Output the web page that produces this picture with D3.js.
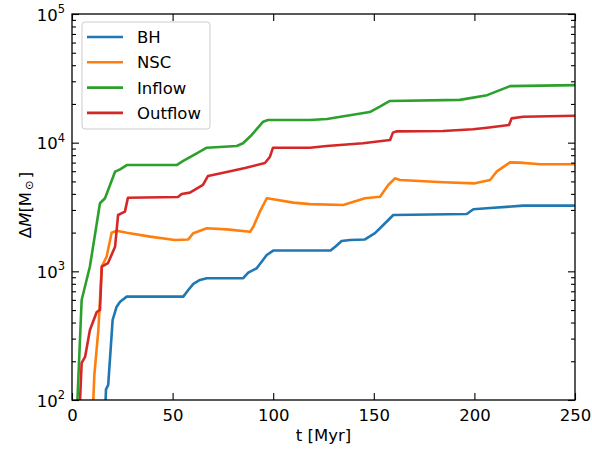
<!DOCTYPE html>
<html>
<head>
<meta charset="utf-8">
<script src="https://cdn.jsdelivr.net/npm/d3@7"></script>
<style>
  body { margin: 0; background: #fff; }
  svg { font-family: "DejaVu Sans", sans-serif; }
</style>
</head>
<body>
<div id="chart"></div>
<script>
// Data: time [Myr] and mass [Msun]
const bhT = [16.7, 16.9, 18.0, 20.2, 22.2, 23.9, 27.2, 55.3, 57.8, 60.3, 63.6, 67.0, 85.1, 87.6, 91.8, 96.8, 100, 118, 128.5, 131, 134, 138.2, 145.6, 150.6, 154.7, 159.7, 196.2, 199.5, 206.1, 224.3, 250];
const bhM = [100, 121, 131, 419, 531, 581, 636, 636, 716, 798, 857, 884, 884, 977, 1057, 1340, 1450, 1450, 1450, 1560, 1720, 1750, 1770, 1980, 2290, 2740, 2790, 3040, 3090, 3240, 3240];

const nscT = [10.6, 11.1, 13.1, 13.9, 14.8, 17.2, 19.7, 22.2, 27.2, 38.8, 51.2, 57.8, 60.3, 67.0, 76.9, 88.5, 90.1, 93.4, 96.8, 100, 110, 118.3, 134.8, 145.6, 153.1, 157.2, 160.5, 163, 184.5, 200.3, 207.8, 211, 217.7, 222.7, 232.6, 250];
const nscM = [100, 156, 350, 598, 1090, 1300, 1995, 2070, 1995, 1860, 1750, 1770, 1980, 2160, 2120, 2030, 2220, 2910, 3700, 3630, 3420, 3330, 3280, 3700, 3800, 4690, 5280, 5130, 4920, 4830, 5130, 5950, 7030, 7000, 6790, 6790];

const inT = [2.7, 4.8, 8.9, 13.9, 16.4, 21.4, 23.9, 27.2, 52, 55.3, 62, 67, 81.9, 85, 89.3, 95, 97.4, 118.3, 126.7, 148, 153, 158, 192.8, 206.3, 217.7, 250];
const inM = [100, 598, 1090, 3380, 3700, 5950, 6200, 6700, 6700, 7210, 8270, 9140, 9420, 9890, 11480, 14560, 15000, 15000, 15280, 17300, 19050, 21100, 21500, 23400, 27500, 28000];

const outT = [4.0, 4.8, 6.5, 8.9, 12.3, 13.9, 14.8, 17.9, 21.4, 22.9, 26.3, 27.8, 52.7, 54.5, 58.6, 65.1, 67.6, 77.5, 86.0, 95.9, 98.4, 99.9, 118.3, 126.6, 144.6, 158.1, 159.5, 161.4, 184.4, 199.3, 206.3, 217.2, 218.5, 224.2, 250];
const outM = [100, 194, 216, 350, 483, 501, 1086, 1160, 1550, 2740, 2910, 3730, 3780, 3990, 4090, 4690, 5510, 5950, 6350, 6950, 7780, 9140, 9140, 9420, 9890, 10500, 11970, 12250, 12320, 12700, 13070, 13710, 15450, 15900, 16200];

const seriesNames = ["BH", "NSC", "Inflow", "Outflow"];
const seriesColors = ["#1f77b4", "#ff7f0e", "#2ca02c", "#d62728"];
const xTicks = [0, 50, 100, 150, 200, 250];
const yExps = [2, 3, 4, 5];

const series = [
  { name: seriesNames[0], t: bhT, m: bhM, color: seriesColors[0] },
  { name: seriesNames[1], t: nscT, m: nscM, color: seriesColors[1] },
  { name: seriesNames[2], t: inT, m: inM, color: seriesColors[2] },
  { name: seriesNames[3], t: outT, m: outM, color: seriesColors[3] }
];

const W = 592, H = 450;
const FS = 16.5;
const margin = { top: 14, right: 17, bottom: 50, left: 72 };
const width = W - margin.left - margin.right;
const height = H - margin.top - margin.bottom;

const svg = d3.select("#chart").append("svg")
  .attr("width", W)
  .attr("height", H);

const g = svg.append("g")
  .attr("transform", `translate(${margin.left},${margin.top})`);

const x = d3.scaleLinear().domain([0, 250]).range([0, width]);
const y = d3.scaleLog().domain([100, 1e5]).range([height, 0]);

// clip for lines
g.append("clipPath").attr("id", "clip")
  .append("rect").attr("width", width).attr("height", height);

const line = d3.line()
  .x(d => x(d[0]))
  .y(d => y(d[1]));

g.append("g").attr("clip-path", "url(#clip)")
  .selectAll("path")
  .data(series)
  .enter().append("path")
  .attr("d", s => line(s.t.map((t, i) => [t, s.m[i]])))
  .attr("fill", "none")
  .attr("stroke", s => s.color)
  .attr("stroke-width", 2.6)
  .attr("stroke-linejoin", "round");

// minor ticks for log axis
const minor = [];
for (let e = 2; e < 5; e++) {
  for (let k = 2; k <= 9; k++) minor.push(k * Math.pow(10, e));
}

// axes with inward ticks on all four sides
const xBottom = g.append("g").attr("transform", `translate(0,${height})`)
  .call(d3.axisBottom(x).tickValues(xTicks).tickSizeInner(-7).tickSizeOuter(0).tickPadding(9));
g.append("g")
  .call(d3.axisTop(x).tickValues(xTicks).tickSizeInner(-7).tickSizeOuter(0).tickFormat(""));
g.append("g")
  .call(d3.axisLeft(y).tickValues(yExps.map(e => Math.pow(10, e))).tickSizeInner(-7).tickSizeOuter(0).tickFormat(""));
g.append("g").attr("transform", `translate(${width},0)`)
  .call(d3.axisRight(y).tickValues(yExps.map(e => Math.pow(10, e))).tickSizeInner(-7).tickSizeOuter(0).tickFormat(""));
g.append("g")
  .call(d3.axisLeft(y).tickValues(minor).tickSizeInner(-4).tickSizeOuter(0).tickFormat(""));
g.append("g").attr("transform", `translate(${width},0)`)
  .call(d3.axisRight(y).tickValues(minor).tickSizeInner(-4).tickSizeOuter(0).tickFormat(""));

g.selectAll(".domain").remove();
g.selectAll(".tick line").attr("stroke", "#000").attr("stroke-width", 1.1);
xBottom.selectAll("text").attr("font-size", FS).attr("fill", "#000")
  .attr("font-family", "DejaVu Sans");

// frame
g.append("rect").attr("width", width).attr("height", height)
  .attr("fill", "none").attr("stroke", "#000").attr("stroke-width", 1.3);

// y tick labels as 10^n
const yl = g.append("g");
yExps.forEach(e => {
  const t = yl.append("text")
    .attr("x", -7).attr("y", y(Math.pow(10, e)) + 6.5)
    .attr("text-anchor", "end").attr("font-size", FS).attr("fill", "#000");
  t.append("tspan").text("10");
  t.append("tspan").attr("dy", -7.5).attr("font-size", 11.5).text(e);
});

// axis labels
svg.append("text")
  .attr("x", margin.left + width / 2).attr("y", 441)
  .attr("text-anchor", "middle").attr("font-size", FS)
  .text("t [Myr]");

const ylab = svg.append("text")
  .attr("transform", `translate(31,${205}) rotate(-90)`)
  .attr("text-anchor", "middle").attr("font-size", FS);
ylab.append("tspan").text("Δ");
ylab.append("tspan").attr("font-style", "italic").text("M");
ylab.append("tspan").text("[M");
ylab.append("tspan").attr("dy", 2).attr("dx", 2).attr("font-size", 11.5).text("⊙");
ylab.append("tspan").attr("dy", -2).attr("dx", 2).text("]");

// legend
const lg = g.append("g").attr("transform", "translate(10,8)");
lg.append("rect").attr("width", 128).attr("height", 107).attr("rx", 3)
  .attr("fill", "#fff").attr("fill-opacity", 0.8)
  .attr("stroke", "#ccc").attr("stroke-width", 1);
series.forEach((s, i) => {
  const yy = 15 + i * 25.3;
  lg.append("line").attr("x1", 5).attr("x2", 41).attr("y1", yy).attr("y2", yy)
    .attr("stroke", s.color).attr("stroke-width", 2.6);
  lg.append("text").attr("x", 55).attr("y", yy + 6)
    .attr("font-size", FS).text(s.name);
});
</script>
</body>
</html>
